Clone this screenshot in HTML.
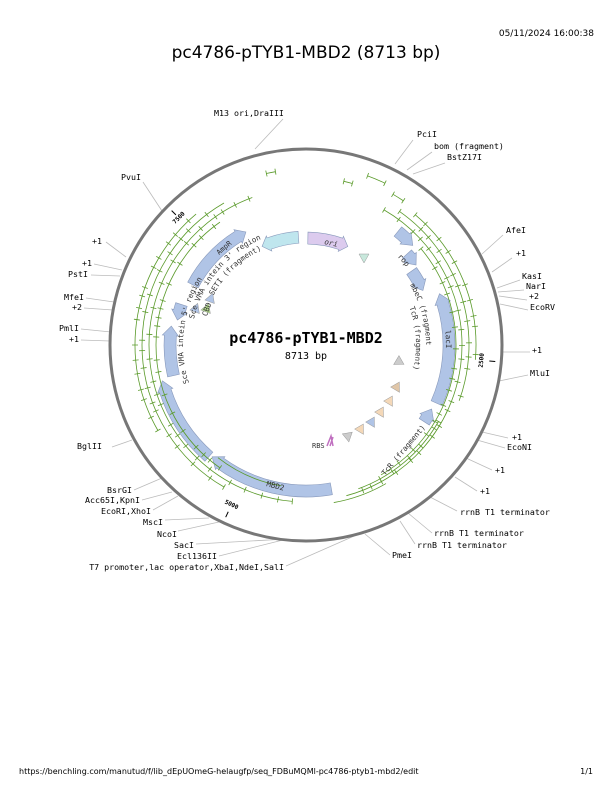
<!DOCTYPE html>
<html><head><meta charset="utf-8">
<style>
body{margin:0;background:#fff;width:612px;height:792px;overflow:hidden}
svg text{font-family:"DejaVu Sans Mono","Liberation Mono",monospace}
</style></head><body>
<svg id="s" width="612" height="792" viewBox="0 0 612 792" xmlns="http://www.w3.org/2000/svg">
<text x="594" y="36" font-size="9" text-anchor="end" style="font-family:'DejaVu Sans','Liberation Sans',sans-serif">05/11/2024 16:00:38</text>
<text x="306" y="58" font-size="17" text-anchor="middle" style="font-family:'DejaVu Sans','Liberation Sans',sans-serif">pc4786-pTYB1-MBD2 (8713 bp)</text>
<text x="19" y="774" font-size="8" style="font-family:'DejaVu Sans','Liberation Sans',sans-serif">https://benchling.com/manutud/f/lib_dEpUOmeG-helaugfp/seq_FDBuMQMl-pc4786-ptyb1-mbd2/edit</text>
<text x="593" y="774" font-size="8" text-anchor="end" style="font-family:'DejaVu Sans','Liberation Sans',sans-serif">1/1</text>
<g id="g"></g>
<circle cx="306" cy="345" r="196" fill="none" stroke="#777" stroke-width="3"/>
<text x="306" y="343" font-size="15" font-weight="bold" text-anchor="middle">pc4786-pTYB1-MBD2</text>
<text x="306" y="359" font-size="10" text-anchor="middle">8713 bp</text>
</svg>
<script>
var NS="http://www.w3.org/2000/svg",g=document.getElementById('g'),cx=306,cy=345;
function P(r,a){a=a*Math.PI/180;return [cx+r*Math.cos(a),cy+r*Math.sin(a)];}
function el(t,at,txt){var e=document.createElementNS(NS,t);for(var k in at)e.setAttribute(k,at[k]);if(txt)e.textContent=txt;g.appendChild(e);return e;}
function arc(r,a1,a2){var p=P(r,a1),q=P(r,a2);return "M"+p[0]+" "+p[1]+" A"+r+" "+r+" 0 "+((a2-a1)>180?1:0)+" 1 "+q[0]+" "+q[1];}
function feat(r,a1,a2,fill,dir){var w=6,h=8,tip=4;
 if(dir>0){var b=a2-tip;var A=P(r+w,a1),B=P(r+w,b),C=P(r+h,b),D=P(r,a2),E=P(r-h,b),F=P(r-w,b),G=P(r-w,a1);
  el('path',{d:"M"+A+" A"+(r+w)+" "+(r+w)+" 0 0 1 "+B+" L"+C+" L"+D+" L"+E+" L"+F+" A"+(r-w)+" "+(r-w)+" 0 0 0 "+G+"Z",fill:fill,stroke:"#8899bb","stroke-width":0.6});}
 else{var b=a1+tip;var A=P(r+w,a2),B=P(r+w,b),C=P(r+h,b),D=P(r,a1),E=P(r-h,b),F=P(r-w,b),G=P(r-w,a2);
  el('path',{d:"M"+A+" A"+(r+w)+" "+(r+w)+" 0 0 0 "+B+" L"+C+" L"+D+" L"+E+" L"+F+" A"+(r-w)+" "+(r-w)+" 0 0 1 "+G+"Z",fill:fill,stroke:"#8899bb","stroke-width":0.6});}}
var B="#b0c4e6";
feat(128,208,242,B,1);feat(108,246,266,"#bfe6ee",-1);feat(107,271,293,"#dccbee",1);
feat(146,309,317,B,1);feat(136,318,324,B,1);feat(129,325,335,B,1);
feat(143,-21,24,B,-1);feat(141,27,33,B,-1);feat(146,80,130,B,1);feat(148,131,166,B,1);
feat(136,167,188,B,1);feat(131,191,198,B,-1);
function tri(x,y,c,rot){el('path',{d:"M-5,-4 L5,-4 L0,5Z",fill:c,stroke:"#999","stroke-width":0.5,transform:"translate("+x+","+y+") rotate("+rot+")"});}
tri(364,258,"#c8e8dc",0);tri(398,362,"#ccc",60);tri(397,388,"#e0c6a8",-30);tri(390,402,"#f4d8b8",-30);
tri(381,413,"#f4d8b8",-30);tri(372,423,"#b0c4e6",-30);tri(361,430,"#f4d8b8",-30);tri(348,437,"#ccc",-10);
tri(211,298,"#b0c4e6",200);tri(207,308,"#b8e090",200);tri(196,308,"#b0c4e6",200);
el('path',{d:"M327,446 l4,-10 l2,10 M330,446 l3,-9",stroke:"#c070c0","stroke-width":1.5,fill:"none"});
var GR="#5a9a2a";
function garc(r,a1,a2){el('path',{d:arc(r,a1,a2),fill:"none",stroke:GR,"stroke-width":0.8});}
var seed=7;function rnd(){seed=(seed*9301+49297)%233280;return seed/233280;}
function tick(r,a){var p=P(r-3,a),q=P(r+3,a);el('line',{x1:p[0],y1:p[1],x2:q[0],y2:q[1],stroke:GR,"stroke-width":0.8});}
garc(156,-60,75);garc(163,-55,20);garc(170,-50,5);garc(150,-40,60);
garc(157,95,250);garc(164,120,240);garc(150,125,235);garc(171,150,230);garc(143,100,128);
garc(153,30,70);garc(160,60,80);
[[156,-60,75],[163,-55,20],[170,-50,5],[150,-40,60],[157,95,250],[164,120,240],[150,125,235],[171,150,230],[153,30,70]].forEach(function(s){for(var a=s[1];a<s[2];a+=3+rnd()*7)tick(s[0],a);});
[[176,257,260],[180,290,296],[174,300,304],[168,283,286]].forEach(function(s){garc(s[0],s[1],s[2]);tick(s[0],s[1]);tick(s[0],s[2]);});
function scl(a,t,rot){var p=P(190,a),q=P(184,a);el('line',{x1:p[0],y1:p[1],x2:q[0],y2:q[1],stroke:"#000","stroke-width":1});var m=P(178,a);
 el('text',{x:m[0],y:m[1],"font-size":6,"font-weight":"bold","text-anchor":"middle",transform:"rotate("+rot+" "+m[0]+" "+m[1]+")"},t);}
scl(225,"7500",-45);scl(5,"2500",-85);scl(115,"5000",25);
var lid=0;function ctext(r,a1,a2,t,fs){var id="tp"+(lid++);var d=document.createElementNS(NS,'path');d.setAttribute('id',id);d.setAttribute('d',arc(r,a1,a2));d.setAttribute('fill','none');g.appendChild(d);
 var tx=el('text',{"font-size":fs||7,fill:"#333"});var tp=document.createElementNS(NS,'textPath');tp.setAttributeNS("http://www.w3.org/1999/xlink","href","#"+id);tp.setAttribute('href',"#"+id);tp.textContent=t;tx.appendChild(tp);}
ctext(115,193,250,"Sce VMA intein 3' region",7.5);ctext(125,226,250,"AmpR",7);ctext(105,208,250,"SETI (fragment)",7.5);
ctext(103,196,208,"CBD",7.5);ctext(123,162,212,"Sce VMA intein 5' region",7.5);
ctext(127,316,330,"rop",7.5);ctext(120,330,360,"mbeC (fragment)",7.5);ctext(110,340,378,"TcR (fragment)",7.5);
ctext(140,-6,12,"lacI",7.5);
function rtext(x,y,rot,t,fs){el('text',{x:x,y:y,"font-size":fs||7.5,fill:"#333",transform:"rotate("+rot+" "+x+" "+y+")"},t);}
rtext(385,476,-50,"TcR (fragment)");rtext(266,486,15,"MBD2");rtext(312,448,0,"RBS",7);
el('text',{x:324,y:244,"font-size":7.5,fill:"#333","font-style":"italic",transform:"rotate(12 324 244)"},"ori");
function lab(x,y,t,anc,lx,ly,px,py){el('text',{x:x,y:y,"font-size":8.3,"text-anchor":anc||"start"},t);
 el('polyline',{points:lx+","+ly+" "+px+","+py,fill:"none",stroke:"#bbb","stroke-width":0.8});}
lab(214,116,"M13 ori,DraIII","start",283,119,255,149);
lab(417,137,"PciI","start",413,140,395,164);
lab(434,149,"bom (fragment)","start",432,152,407,170);
lab(447,160,"BstZ17I","start",445,163,413,174);
lab(141,180,"PvuI","end",143,182,162,211);
lab(506,233,"AfeI","start",503,235,482,254);
lab(516,256,"+1","start",512,258,492,272);
lab(522,279,"KasI","start",520,280,497,288);
lab(526,289,"NarI","start",524,290,498,292);
lab(529,299,"+2","start",527,300,499,296);
lab(530,310,"EcoRV","start",528,310,500,304);
lab(532,353,"+1","start",530,352,502,352);
lab(530,376,"MluI","start",528,375,499,381);
lab(512,440,"+1","start",508,438,482,432);
lab(507,450,"EcoNI","start",505,448,477,440);
lab(495,473,"+1","start",492,470,466,458);
lab(480,494,"+1","start",477,491,455,477);
lab(460,515,"rrnB T1 terminator","start",457,511,430,497);
lab(434,536,"rrnB T1 terminator","start",432,533,408,513);
lab(417,548,"rrnB T1 terminator","start",415,544,400,521);
lab(392,558,"PmeI","start",390,555,365,534);
lab(102,244,"+1","end",106,242,126,257);
lab(92,266,"+1","end",94,264,122,270);
lab(88,277,"PstI","end",91,275,120,276);
lab(84,300,"MfeI","end",86,298,114,302);
lab(82,310,"+2","end",84,308,113,310);
lab(79,331,"PmlI","end",81,329,111,332);
lab(79,342,"+1","end",81,340,110,341);
lab(102,449,"BglII","end",112,447,132,440);
lab(132,493,"BsrGI","end",134,490,162,478);
lab(140,503,"Acc65I,KpnI","end",142,500,172,492);
lab(151,514,"EcoRI,XhoI","end",153,510,178,496);
lab(163,525,"MscI","end",165,520,209,518);
lab(177,537,"NcoI","end",178,531,219,522);
lab(194,548,"SacI","end",196,544,287,539);
lab(217,559,"Ecl136II","end",219,556,287,539);
lab(284,570,"T7 promoter,lac operator,XbaI,NdeI,SalI","end",286,566,361,533);
</script>
</body></html>
